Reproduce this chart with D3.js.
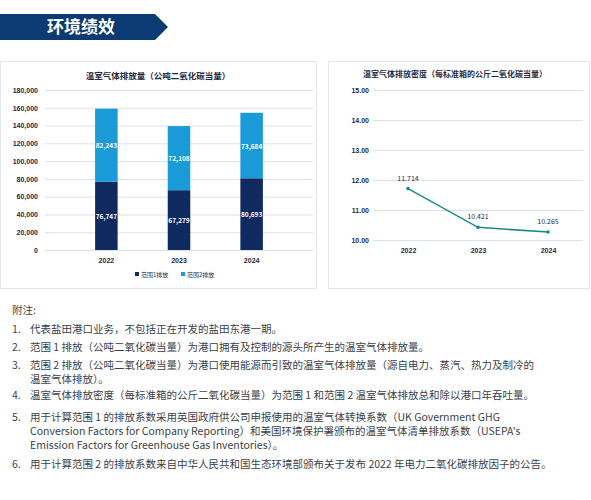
<!DOCTYPE html>
<html><head><meta charset="utf-8">
<script src="https://cdn.jsdelivr.net/npm/d3@7"></script>
<style>body{margin:0;background:#fff;font-family:"Noto Sans CJK SC","Noto Sans",sans-serif;}</style>
</head><body>
<script>
const years = ['2022', '2023', '2024'];
const scope1 = [76747, 67279, 80693];
const scope2 = [82243, 72108, 73684];
const intensity = [11.714, 10.421, 10.265];
const barTicks = [0, 20000, 40000, 60000, 80000, 100000, 120000, 140000, 160000, 180000];
const lineTicks = [10, 11, 12, 13, 14, 15];
const notes = [
  ['1.', ['代表盐田港口业务，不包括正在开发的盐田东港一期。']],
  ['2.', ['范围 1 排放（公吨二氧化碳当量）为港口拥有及控制的源头所产生的温室气体排放量。']],
  ['3.', ['范围 2 排放（公吨二氧化碳当量）为港口使用能源而引致的温室气体排放量（源自电力、蒸汽、热力及制冷的', '温室气体排放）。']],
  ['4.', ['温室气体排放密度（每标准箱的公斤二氧化碳当量）为范围 1 和范围 2 温室气体排放总和除以港口年吞吐量。']],
  ['5.', ['用于计算范围 1 的排放系数采用英国政府供公司申报使用的温室气体转换系数（UK Government GHG', 'Conversion Factors for Company Reporting）和美国环境保护署颁布的温室气体清单排放系数（USEPA\'s', 'Emission Factors for Greenhouse Gas Inventories）。']],
  ['6.', ['用于计算范围 2 的排放系数来自中华人民共和国生态环境部颁布关于发布 2022 年电力二氧化碳排放因子的公告。']]
];
const navy = '#0f2a5e', sky = '#1a9ad6', teal = '#1b8c84', grid = '#d9e1ea', txt = '#1e2a44';

const svg = d3.select('body').append('svg').attr('width', 591).attr('height', 500);

// header banner
svg.append('path').attr('d', 'M0,14 L155,14 L168,27 L155,40 L0,40 Z').attr('fill', '#0c3a72');
svg.append('text').attr('x', 47).attr('y', 33).attr('fill', '#fff')
  .attr('font-size', 17).attr('font-weight', 700).text('环境绩效');

// panels
svg.append('rect').attr('x', 0.5).attr('y', 61.5).attr('width', 316).attr('height', 227).attr('fill', '#fff').attr('stroke', '#e3e6ea');
svg.append('rect').attr('x', 328.5).attr('y', 61.5).attr('width', 261).attr('height', 227).attr('fill', '#fff').attr('stroke', '#e3e6ea');

// bar chart
const x = d3.scaleBand().domain(years).range([45, 313]).padding(0.69);
const y = d3.scaleLinear().domain([0, 180000]).range([250, 90]);
svg.append('text').attr('x', 158).attr('y', 79).attr('text-anchor', 'middle').attr('font-size', 8.5)
  .attr('font-weight', 700).attr('fill', txt).text('温室气体排放量（公吨二氧化碳当量）');
const ya = svg.append('g').attr('transform', 'translate(45,0)')
  .call(d3.axisLeft(y).tickValues(barTicks).tickSize(-268).tickFormat(d3.format(',')));
ya.select('.domain').remove();
ya.selectAll('line').attr('stroke', grid);
ya.selectAll('text').attr('font-size', 7).attr('font-weight', 700).attr('fill', txt).attr('x', -7);
const xa = svg.append('g').attr('transform', 'translate(0,250)').call(d3.axisBottom(x).tickSize(0));
xa.select('.domain').attr('stroke', grid);
xa.selectAll('text').attr('font-size', 7).attr('font-weight', 700).attr('fill', txt).attr('dy', 10);

const stack = years.map((yr, i) => ({yr, a: scope1[i], b: scope2[i]}));
svg.selectAll('.s1').data(stack).enter().append('rect')
  .attr('x', d => x(d.yr)).attr('width', x.bandwidth())
  .attr('y', d => y(d.a)).attr('height', d => y(0) - y(d.a)).attr('fill', navy);
svg.selectAll('.s2').data(stack).enter().append('rect')
  .attr('x', d => x(d.yr)).attr('width', x.bandwidth())
  .attr('y', d => y(d.a + d.b)).attr('height', d => y(0) - y(d.b)).attr('fill', sky);
svg.selectAll('.l1').data(stack).enter().append('text')
  .attr('x', d => x(d.yr) + x.bandwidth() / 2).attr('y', d => y(d.a / 2) + 3)
  .attr('text-anchor', 'middle').attr('font-size', 6.5).attr('font-weight', 700).attr('fill', '#fff')
  .text(d => d3.format(',')(d.a));
svg.selectAll('.l2').data(stack).enter().append('text')
  .attr('x', d => x(d.yr) + x.bandwidth() / 2).attr('y', d => y(d.a + d.b / 2) + 3)
  .attr('text-anchor', 'middle').attr('font-size', 6.5).attr('font-weight', 700).attr('fill', '#fff')
  .text(d => d3.format(',')(d.b));
[['范围1排放', navy, 135], ['范围2排放', sky, 181]].forEach(([t, c, lx]) => {
  svg.append('rect').attr('x', lx).attr('y', 272).attr('width', 4).attr('height', 4).attr('fill', c);
  svg.append('text').attr('x', lx + 6).attr('y', 277).attr('font-size', 6).attr('fill', txt).text(t);
});

// line chart
const x2 = d3.scalePoint().domain(years).range([373, 583]).padding(0.5);
const y2 = d3.scaleLinear().domain([10, 15]).range([240, 90]);
svg.append('text').attr('x', 455).attr('y', 77).attr('text-anchor', 'middle').attr('font-size', 8)
  .attr('font-weight', 700).attr('fill', txt).text('温室气体排放密度（每标准箱的公斤二氧化碳当量）');
const ya2 = svg.append('g').attr('transform', 'translate(373,0)')
  .call(d3.axisLeft(y2).tickValues(lineTicks).tickSize(-210).tickFormat(d3.format('.2f')));
ya2.select('.domain').remove();
ya2.selectAll('line').attr('stroke', grid);
ya2.selectAll('text').attr('font-size', 7).attr('font-weight', 700).attr('fill', txt).attr('x', -4);
const xa2 = svg.append('g').attr('transform', 'translate(0,240)').call(d3.axisBottom(x2).tickSize(0));
xa2.select('.domain').remove();
xa2.selectAll('text').attr('font-size', 7).attr('font-weight', 700).attr('fill', txt).attr('dy', 10);
const pts = years.map((yr, i) => [yr, intensity[i]]);
svg.append('path').datum(pts).attr('fill', 'none').attr('stroke', teal).attr('stroke-width', 1.5)
  .attr('d', d3.line().x(d => x2(d[0])).y(d => y2(d[1])));
svg.selectAll('.pt').data(pts).enter().append('circle')
  .attr('cx', d => x2(d[0])).attr('cy', d => y2(d[1])).attr('r', 1.8).attr('fill', teal);
svg.selectAll('.pl').data(pts).enter().append('text')
  .attr('x', d => x2(d[0])).attr('y', d => y2(d[1]) - 8).attr('text-anchor', 'middle')
  .attr('font-size', 7).attr('fill', txt).text(d => d3.format('.3f')(d[1]));

// notes
const nc = '#3a3f4a';
svg.append('text').attr('x', 12).attr('y', 314).attr('font-size', 10.5).attr('fill', nc).text('附注:');
const starts = [333, 351, 369, 399, 421, 468];
notes.forEach(([n, lines], i) => {
  svg.append('text').attr('x', 12).attr('y', starts[i]).attr('font-size', 10.5).attr('fill', nc).text(n);
  lines.forEach((l, j) => svg.append('text').attr('x', 30).attr('y', starts[i] + j * 14)
    .attr('font-size', 10.5).attr('fill', nc).text(l));
});
</script>
</body></html>
